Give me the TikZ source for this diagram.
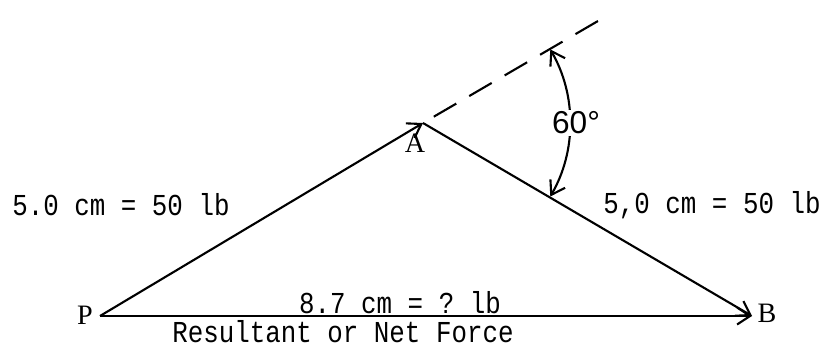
\documentclass[tikz,border=0pt]{standalone}
\usepackage{fontspec}
\setmainfont{Liberation Serif}
\setmonofont[FakeStretch=0.85]{Liberation Mono}
\newfontfamily\degfont{Liberation Sans}
\usetikzlibrary{arrows.meta}

\tikzset{
  vec/.style={-{Straight Barb[length=2.6mm,width=3.4mm]}, line width=1.2pt},
  typed/.style={font=\fontsize{17.3}{20}\selectfont\ttfamily, inner sep=0pt},
  pointlabel/.style={font=\fontsize{16}{18}\selectfont, inner sep=1pt}
}

\begin{document}
\begin{tikzpicture}
	\useasboundingbox (0,0) rectangle (16.54,6.96);

	% Points of the force triangle
	\coordinate (P) at (2.00,0.64);
	\coordinate (A) at (8.46,4.50);
	\coordinate (B) at (15.04,0.64);
	\coordinate (ext) at (12.20,6.68);

	% Point labels
	\node[pointlabel] (Plabel) at (1.70,0.66) {P};
	\node[pointlabel] (Alabel) at (8.30,4.10) {A};
	\node[pointlabel] (Blabel) at (15.34,0.70) {B};

	% First force, P to A
	\draw[vec] (P) -- (A);
	\node[typed] (forceone) at (2.42,2.86) {5.0 cm = 50 lb};

	% Second force, A to B
	\draw[vec] (A) -- (B);
	\node[typed] (forcetwo) at (14.24,2.86) {5,0 cm = 50 lb};

	% Extension of first force
	\draw[line width=1.2pt, dash pattern=on 0.52cm off 0.3cm, shorten <=0.25cm] (A) -- (ext);

	% Angle between the forces
	\draw[{Straight Barb[length=2.6mm,width=3.4mm]}-{Straight Barb[length=2.6mm,width=3.4mm]}, line width=1.2pt]
		([shift={(-30:2.94)}]A) arc[start angle=-30, end angle=30, radius=2.94];
	\node[fill=white, inner sep=1pt, font=\fontsize{18}{20}\selectfont\degfont] (angle) at (11.52,4.50) {60°};

	% Resultant, P to B
	\draw[vec] (P) -- (B);
	\node[typed] (result) at (8.00,0.90) {8.7 cm = ? lb};
	\node[typed] (resultname) at (6.86,0.32) {Resultant or Net Force};
\end{tikzpicture}
\end{document}
